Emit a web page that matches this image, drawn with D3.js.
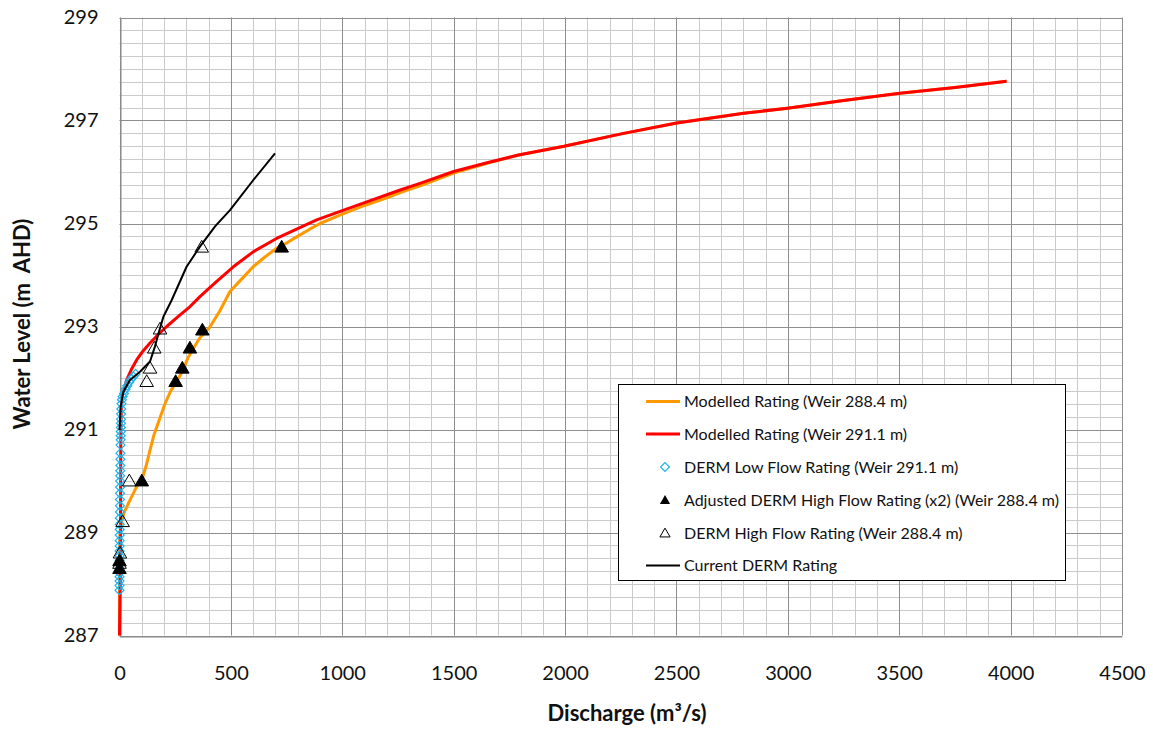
<!DOCTYPE html>
<html>
<head>
<meta charset="utf-8">
<script src="https://cdn.jsdelivr.net/npm/d3@7"></script>
<style>
  body { margin: 0; background: #fff; }
  svg text { font-family: Lato, "Open Sans", sans-serif; fill: #111; }
</style>
</head>
<body>
<div id="chart"></div>
<script>
// axis ticks
var xTicks = [0, 500, 1000, 1500, 2000, 2500, 3000, 3500, 4000, 4500];
var yTicks = [287, 289, 291, 293, 295, 297, 299];

// Modelled Rating (Weir 288.4 m)
var orangeQ = [0, 0.5, 1, 2, 10, 20, 47, 77, 100, 120, 137, 155, 174, 204, 230, 257, 285, 308, 335, 361, 406, 450, 496, 550, 600, 650, 705, 750, 795, 850, 900, 1000, 1100, 1200, 1260, 1350, 1500, 1650, 1791, 1995, 2252, 2501, 2802, 2998, 3250, 3503, 3750, 3982];
var orangeZ = [287.0, 288.0, 288.6, 289.0, 289.21, 289.38, 289.63, 289.89, 290.02, 290.3, 290.6, 290.9, 291.13, 291.5, 291.75, 291.93, 292.15, 292.4, 292.6, 292.78, 292.99, 293.3, 293.68, 293.93, 294.16, 294.34, 294.52, 294.62, 294.74, 294.88, 295.0, 295.18, 295.35, 295.5, 295.6, 295.73, 295.98, 296.17, 296.33, 296.5, 296.74, 296.95, 297.14, 297.24, 297.39, 297.53, 297.64, 297.76];

// Modelled Rating (Weir 291.1 m)
var redQ = [0, 3, 4, 5, 6, 8, 12, 32, 55, 77, 105, 137, 175, 212, 260, 310, 361, 430, 511, 600, 705, 800, 885, 1000, 1110, 1260, 1349, 1500, 1650, 1791, 1995, 2252, 2501, 2802, 2998, 3250, 3503, 3750, 3982];
var redZ = [287.0, 288.0, 289.0, 290.0, 291.0, 291.4, 291.65, 291.96, 292.18, 292.35, 292.52, 292.68, 292.85, 293.0, 293.18, 293.36, 293.58, 293.85, 294.16, 294.45, 294.71, 294.9, 295.07, 295.25, 295.42, 295.65, 295.78, 296.01, 296.18, 296.33, 296.5, 296.74, 296.95, 297.14, 297.24, 297.39, 297.53, 297.64, 297.76];

// DERM Low Flow Rating (Weir 291.1 m)
var lowQ = [0, 0, 0.1, 0.1, 0.2, 0.2, 0.3, 0.4, 0.5, 0.6, 0.7, 0.8, 1, 1.1, 1.3, 1.5, 1.7, 1.9, 2.1, 2.3, 2.6, 2.9, 3.2, 3.5, 3.8, 4.1, 4.4, 4.7, 5, 5.3, 5.6, 6, 6.4, 6.8, 7.3, 8, 9, 11, 14, 20, 27, 35, 44, 53, 62, 72];
var lowZ = [287.88, 287.97, 288.06, 288.14, 288.22, 288.3, 288.38, 288.46, 288.55, 288.64, 288.74, 288.84, 288.95, 289.06, 289.16, 289.28, 289.4, 289.52, 289.64, 289.76, 289.88, 290.0, 290.1, 290.2, 290.3, 290.42, 290.54, 290.7, 290.8, 290.88, 290.96, 291.04, 291.12, 291.2, 291.3, 291.4, 291.5, 291.58, 291.64, 291.7, 291.78, 291.85, 291.92, 291.98, 292.03, 292.08];

// Adjusted DERM High Flow Rating (x2) (Weir 288.4 m)
var adjQ = [0, 0, 100, 252, 282, 316, 372, 728];
var adjZ = [288.3, 288.45, 290.0, 291.93, 292.19, 292.58, 292.93, 294.54];

// DERM High Flow Rating (Weir 288.4 m)
var highQ = [0, 2, 14, 44, 122, 137, 156, 182, 369];
var highZ = [288.4, 288.6, 289.21, 290.0, 291.93, 292.19, 292.58, 292.95, 294.54];

// Current DERM Rating
var curQ = [0, 5, 17, 47, 92, 137, 159, 174, 197, 234, 301, 361, 430, 496, 600, 698];
var curZ = [290.99, 291.44, 291.73, 291.96, 292.12, 292.32, 292.61, 292.85, 293.19, 293.51, 294.16, 294.55, 294.95, 295.26, 295.84, 296.36];

var legendLabels = [
    "Modelled Rating (Weir 288.4 m)",
    "Modelled Rating (Weir 291.1 m)",
    "DERM Low Flow Rating (Weir 291.1 m)",
    "Adjusted DERM High Flow Rating (x2) (Weir 288.4 m)",
    "DERM High Flow Rating (Weir 288.4 m)",
    "Current DERM Rating"
];

var width = 1153, height = 729;
var margin = {top: 17.5, right: 31, bottom: 93.5, left: 119.5};

var svg = d3.select("#chart").append("svg")
    .attr("width", width)
    .attr("height", height);

var x = d3.scaleLinear().domain([0, 4500]).range([margin.left, width - margin.right]);
var y = d3.scaleLinear().domain([287, 299]).range([height - margin.bottom, margin.top]);

function zip(qs, zs) {
    return qs.map(function (q, i) { return {q: q, z: zs[i]}; });
}

//gridlines, minor first then major
var grid = svg.append("g").attr("class", "grid");
grid.selectAll("line.vminor")
    .data(d3.range(0, 4501, 100))
    .enter().append("line")
    .attr("x1", function (d) { return Math.round(x(d)) + 0.5; })
    .attr("x2", function (d) { return Math.round(x(d)) + 0.5; })
    .attr("y1", y(287)).attr("y2", y(299))
    .attr("stroke", "#cbcbcb").attr("stroke-width", 1);
grid.selectAll("line.hminor")
    .data(d3.range(287, 299.01, 0.25))
    .enter().append("line")
    .attr("y1", function (d) { return Math.round(y(d)) + 0.5; })
    .attr("y2", function (d) { return Math.round(y(d)) + 0.5; })
    .attr("x1", x(0)).attr("x2", x(4500))
    .attr("stroke", "#cbcbcb").attr("stroke-width", 1);
grid.selectAll("line.vmajor")
    .data(xTicks)
    .enter().append("line")
    .attr("x1", function (d) { return Math.round(x(d)) + 0.5; })
    .attr("x2", function (d) { return Math.round(x(d)) + 0.5; })
    .attr("y1", y(287)).attr("y2", y(299))
    .attr("stroke", "#8e8e8e").attr("stroke-width", 1);
grid.selectAll("line.hmajor")
    .data(yTicks)
    .enter().append("line")
    .attr("y1", function (d) { return Math.round(y(d)) + 0.5; })
    .attr("y2", function (d) { return Math.round(y(d)) + 0.5; })
    .attr("x1", x(0)).attr("x2", x(4500))
    .attr("stroke", "#8e8e8e").attr("stroke-width", 1);

// axes
var xAxis = d3.axisBottom(x).tickValues(xTicks).tickSize(0).tickPadding(29).tickFormat(d3.format("d"));
var yAxis = d3.axisLeft(y).tickValues(yTicks).tickSize(0).tickPadding(22).tickFormat(d3.format("d"));

svg.append("g")
    .attr("transform", "translate(0," + (Math.round(y(287)) + 0.5) + ")")
    .call(xAxis)
    .call(function (g) { g.select(".domain").attr("stroke", "#868686"); })
    .selectAll("text").style("font-size", "20px").attr("fill", "#111");

svg.append("g")
    .attr("transform", "translate(" + (Math.round(x(0)) + 0.5) + ",0)")
    .call(yAxis)
    .call(function (g) { g.select(".domain").attr("stroke", "#868686"); })
    .selectAll("text").style("font-size", "20px").attr("fill", "#111");

svg.append("text")
    .attr("x", 627)
    .attr("y", 721)
    .attr("text-anchor", "middle")
    .style("font-size", "22px")
    .style("font-weight", "bold")
    .text("Discharge (m\u00b3/s)");

svg.append("text")
    .attr("transform", "translate(30," + 324 + ") rotate(-90)")
    .attr("text-anchor", "middle")
    .style("font-size", "22px")
    .style("font-weight", "bold")
    .text("Water Level (m\u00a0 AHD)");

// series
var line = d3.line()
    .x(function (d) { return x(d.q); })
    .y(function (d) { return y(d.z); });

svg.append("path")
    .datum(zip(orangeQ, orangeZ))
    .attr("d", line)
    .attr("fill", "none")
    .attr("stroke", "#ff9900")
    .attr("stroke-width", 3)
    .attr("stroke-linejoin", "round");

svg.append("path")
    .datum(zip(redQ, redZ))
    .attr("d", line)
    .attr("fill", "none")
    .attr("stroke", "#ff0000")
    .attr("stroke-width", 3)
    .attr("stroke-linejoin", "round");

var diamond = d3.symbol().type(d3.symbolSquare).size(40);
var tri = d3.symbol().type(d3.symbolTriangle).size(80);

svg.append("g").selectAll("path")
    .data(zip(lowQ, lowZ))
    .enter().append("path")
    .attr("d", diamond)
    .attr("transform", function (d) { return "translate(" + x(d.q) + "," + y(d.z) + ") rotate(45)"; })
    .attr("fill", "none")
    .attr("stroke", "#1fb4ea")
    .attr("stroke-width", 1.2);

svg.append("g").selectAll("path")
    .data(zip(adjQ, adjZ))
    .enter().append("path")
    .attr("d", tri)
    .attr("transform", function (d) { return "translate(" + x(d.q) + "," + (y(d.z) + 1) + ")"; })
    .attr("fill", "#000")
    .attr("stroke", "#000")
    .attr("stroke-width", 1);

svg.append("g").selectAll("path")
    .data(zip(highQ, highZ))
    .enter().append("path")
    .attr("d", tri)
    .attr("transform", function (d) { return "translate(" + x(d.q) + "," + (y(d.z) + 1) + ")"; })
    .attr("fill", "none")
    .attr("stroke", "#000")
    .attr("stroke-width", 1);

svg.append("path")
    .datum(zip(curQ, curZ))
    .attr("d", line)
    .attr("fill", "none")
    .attr("stroke", "#000")
    .attr("stroke-width", 2)
    .attr("stroke-linejoin", "round");

// legend
var legend = svg.append("g").attr("class", "legend");
legend.append("rect")
    .attr("x", 618.5).attr("y", 384.5)
    .attr("width", 447).attr("height", 196)
    .attr("fill", "#fff")
    .attr("stroke", "#000")
    .attr("stroke-width", 1);

var rowY = [401.5, 434, 467, 500, 533, 565.5];
var items = legend.selectAll("g.item")
    .data(legendLabels)
    .enter().append("g")
    .attr("class", "item")
    .attr("transform", function (d, i) { return "translate(0," + rowY[i] + ")"; });

items.append("text")
    .attr("x", 684)
    .attr("dy", "0.35em")
    .style("font-size", "16px")
    .text(function (d) { return d; });

var lineColors = ["#ff9900", "#ff0000", null, null, null, "#000"];
items.filter(function (d, i) { return lineColors[i]; })
    .append("line")
    .attr("x1", 646).attr("x2", 680)
    .attr("stroke", function (d) { return lineColors[legendLabels.indexOf(d)]; })
    .attr("stroke-width", function (d) { return legendLabels.indexOf(d) === 5 ? 2 : 3; });

items.filter(function (d, i) { return i === 2; })
    .append("path")
    .attr("d", diamond)
    .attr("transform", "translate(665,0) rotate(45)")
    .attr("fill", "none")
    .attr("stroke", "#1fb4ea")
    .attr("stroke-width", 1.2);

items.filter(function (d, i) { return i === 3; })
    .append("path")
    .attr("d", d3.symbol().type(d3.symbolTriangle).size(45))
    .attr("transform", "translate(665,1)")
    .attr("fill", "#000");

items.filter(function (d, i) { return i === 4; })
    .append("path")
    .attr("d", d3.symbol().type(d3.symbolTriangle).size(45))
    .attr("transform", "translate(665,1)")
    .attr("fill", "none")
    .attr("stroke", "#000");
</script>
</body>
</html>
